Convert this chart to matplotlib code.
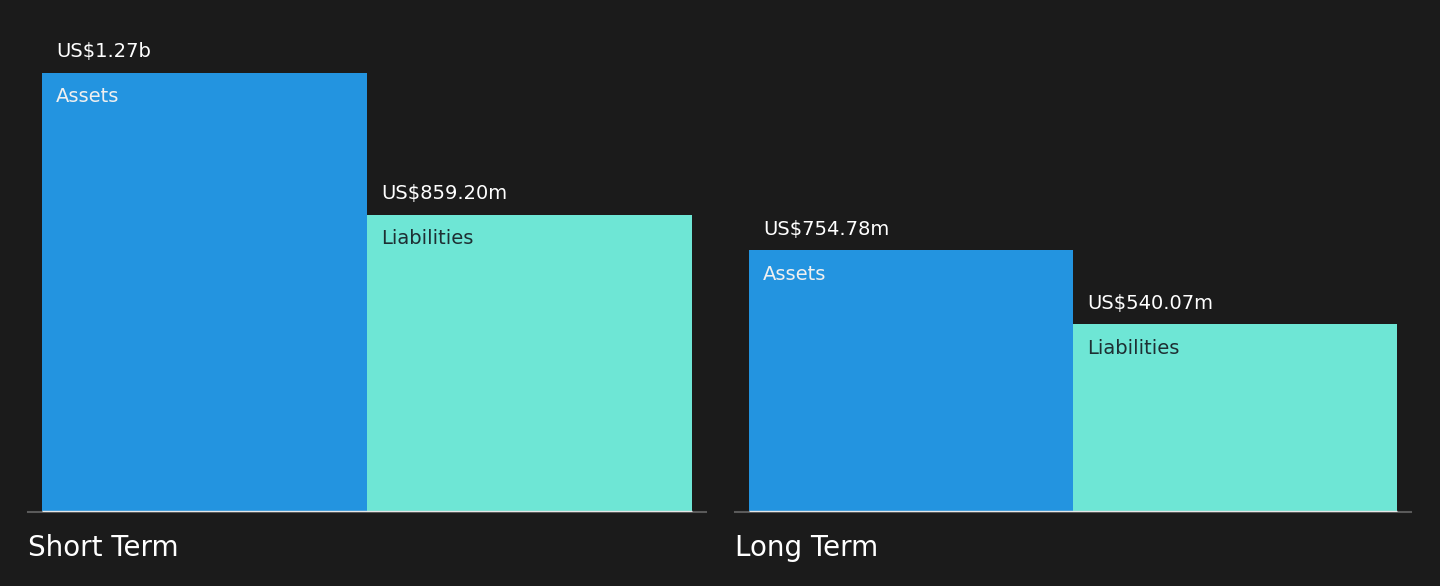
import matplotlib
matplotlib.use('Agg')
from matplotlib import pyplot as plt

groups = ['Short Term', 'Long Term']
series = ['Assets', 'Liabilities']
assets = [1270.0, 754.78]
liabilities = [859.20, 540.07]
value_labels = [['US$1.27b', 'US$859.20m'], ['US$754.78m', 'US$540.07m']]

bg = '#1b1b1b'
colors = ['#2394e0', '#6ee6d5']
inner_text = ['#f0f0f0', '#1e2f33']

W, H = 1440, 586
fig = plt.figure(figsize=(W / 100, H / 100), dpi=100, facecolor=bg)

# axes placement in pixels: (left, width)
boxes = [(28, 678), (735, 676)]
base_px = 512
scale = 0.3445  # px per million

for gi, (left, width) in enumerate(boxes):
    ax = fig.add_axes([left / W, (H - base_px) / H, width / W, base_px / H])
    ax.set_facecolor(bg)
    ax.set_xlim(0, width)
    ax.set_ylim(-1.5 / scale, (base_px - 1.5) / scale)
    vals = [assets[gi], liabilities[gi]]
    bw = (width - 28) / 2
    for si, v in enumerate(vals):
        x0 = 14 + si * bw
        ax.bar(x0, v, width=bw, align='edge', color=colors[si], linewidth=0)
        ax.text(x0 + 14, v + 21 / scale, value_labels[gi][si], color='white',
                fontsize=14, va='center', ha='left')
        ax.text(x0 + 14, v - 24 / scale, series[si], color=inner_text[si],
                fontsize=14, va='center', ha='left')
    ax.hlines(0, 14, width - 14, color='#e6e6e6', lw=1, zorder=5)
    for s in ['top', 'right', 'left']:
        ax.spines[s].set_visible(False)
    ax.spines['bottom'].set_color('#5a5a5a')
    ax.spines['bottom'].set_linewidth(1.5)
    ax.set_xticks([])
    ax.set_yticks([])
    fig.text(left / W, (H - 548) / H, groups[gi], color='white', fontsize=20,
             va='center', ha='left')

fig.savefig('out.png', dpi=100, facecolor=bg)
